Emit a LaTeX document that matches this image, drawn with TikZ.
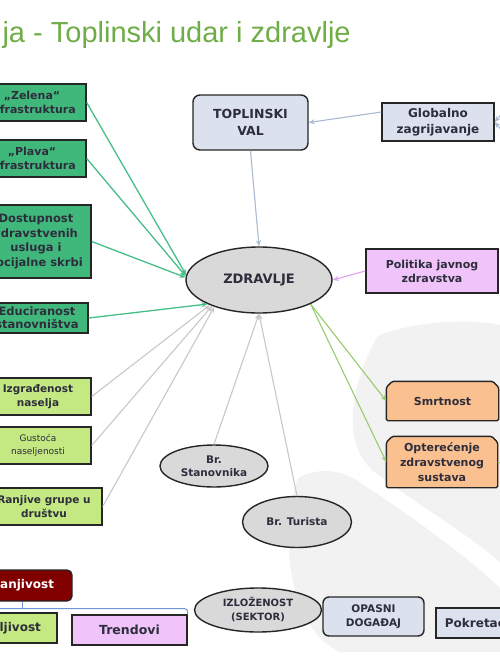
\documentclass[tikz,border=0pt]{standalone}
\usepackage{fontspec}
\setmainfont{DejaVu Sans}
\newfontfamily\titlefont{Liberation Sans}
\usetikzlibrary{arrows.meta, shapes.geometric, calc, backgrounds}

\definecolor{titlegreen}{RGB}{112,173,71}
\definecolor{tealbox}{RGB}{64,184,124}
\definecolor{limebox}{RGB}{196,232,130}
\definecolor{bluegray}{RGB}{219,226,237}
\definecolor{pinkbox}{RGB}{240,196,250}
\definecolor{orangebox}{RGB}{250,192,143}
\definecolor{ranjred}{RGB}{128,0,0}
\definecolor{ellgray}{RGB}{217,217,217}
\definecolor{wmgray}{RGB}{242,242,242}
\definecolor{boxtext}{RGB}{45,45,60}
\definecolor{tealline}{RGB}{70,190,135}
\definecolor{limeline}{RGB}{150,205,110}
\definecolor{greyline}{RGB}{200,200,200}
\definecolor{blueline}{RGB}{170,186,210}
\definecolor{pinkline}{RGB}{222,160,240}
\definecolor{brkblue}{RGB}{110,150,215}

\begin{document}
\begin{tikzpicture}[x=1pt, y=-1pt,
    box/.style={draw=black!85, line width=1.4pt, align=center, inner sep=1pt, text=boxtext,
        font=\bfseries\fontsize{11}{14}\selectfont},
    zelbox/.style={box, fill=tealbox},
    limbox/.style={box, fill=limebox},
    blbox/.style={box, fill=bluegray},
    pinkbx/.style={box, fill=pinkbox},
    ovl/.style={box, ellipse, fill=ellgray, inner sep=0pt},
    orbox/.style={box, draw=none},
    orshape/.style={fill=orangebox, draw=black!85, line width=1.4pt, rounded corners=1.5pt},
    tip/.style={-{Stealth[length=6pt, width=5pt]}},
    tealarr/.style={tip, draw=tealline, line width=1.3pt},
    limearr/.style={tip, draw=limeline, line width=1.1pt},
    greyarr/.style={tip, draw=greyline, line width=1.1pt},
    bluarr/.style={tip, draw=blueline, line width=1.1pt},
    pinkarr/.style={tip, draw=pinkline, line width=1.1pt},
    brk/.style={draw=brkblue, line width=1pt}]

    \useasboundingbox (0,0) rectangle (500,670);
    \begin{scope}[on background layer]
        \fill[white] (0,0) rectangle (500,670);
        \fill[wmgray] (378,336) .. controls (352,380) and (340,440) .. (372,470)
            .. controls (410,500) and (470,535) .. (500,562) -- (500,325)
            .. controls (470,318) and (410,322) .. (378,336) -- cycle;
        \fill[wmgray] (298,478) .. controls (320,466) and (345,470) .. (365,486)
            .. controls (410,515) and (465,555) .. (500,588) -- (500,652) -- (340,652)
            .. controls (290,630) and (278,540) .. (298,478) -- cycle;
    \end{scope}
    \clip (0,0) rectangle (500,670);

    \node[anchor=base west, text=titlegreen, font=\titlefont\fontsize{29}{34}\selectfont] (naslov) at (-1,42) {ja - Toplinski udar i zdravlje};

    \node[zelbox, minimum width=108pt, minimum height=37pt] (zel) at (32,102.5) {„Zelena“\\infrastruktura};
    \node[zelbox, minimum width=108pt, minimum height=37pt] (plav) at (32,158.5) {„Plava“\\infrastruktura};
    \node[zelbox, minimum width=110pt, minimum height=73pt, font=\bfseries\fontsize{11.5}{14.5}\selectfont] (dost) at (36,241.5) {Dostupnost\\zdravstvenih\\usluga i\\socijalne skrbi};
    \node[zelbox, minimum width=102pt, minimum height=30pt, font=\bfseries\fontsize{11.5}{13}\selectfont] (educ) at (37,318) {Educiranost\\stanovništva};

    \node[limbox, minimum width=106pt, minimum height=37pt, font=\bfseries\fontsize{10.5}{14}\selectfont] (izgr) at (38,396.5) {Izgrađenost\\naselja};
    \node[limbox, minimum width=106pt, minimum height=37pt, font=\fontsize{9}{13}\selectfont] (gust) at (38,445.5) {Gustoća\\naseljenosti};
    \node[limbox, minimum width=116pt, minimum height=37pt, font=\bfseries\fontsize{10.5}{14}\selectfont] (ranjg) at (44,506.5) {Ranjive grupe u\\društvu};

    \node[blbox, rounded corners=7pt, minimum width=115pt, minimum height=55pt, font=\bfseries\fontsize{12.5}{17}\selectfont] (topl) at (250.5,122.5) {TOPLINSKI\\VAL};
    \node[blbox, minimum width=112pt, minimum height=38pt, font=\bfseries\fontsize{12}{16}\selectfont] (glob) at (438,122) {Globalno\\zagrijavanje};
    \node[pinkbx, minimum width=132pt, minimum height=44pt] (pol) at (432,271) {Politika javnog\\zdravstva};

    \node[ovl, minimum width=146pt, minimum height=66pt, font=\bfseries\fontsize{13}{16}\selectfont] (zdr) at (259,280) {ZDRAVLJE};
    \node[ovl, minimum width=108pt, minimum height=42pt, font=\bfseries\fontsize{10.5}{13}\selectfont] (stan) at (214,466) {Br.\\Stanovnika};
    \node[ovl, minimum width=109pt, minimum height=51pt, font=\bfseries\fontsize{10.5}{13}\selectfont] (tur) at (297,522) {Br. Turista};

    \node[orbox, minimum width=111pt, minimum height=38pt] (smrt) at (442.5,401) {Smrtnost};
    \node[orbox, minimum width=110pt, minimum height=50pt, font=\bfseries\fontsize{11}{15}\selectfont] (opt) at (442,462) {Opterećenje\\zdravstvenog\\sustava};
    \begin{scope}[on background layer]
        \foreach \ob in {smrt, opt}
            \path[orshape] (\ob.south west) -- ($(\ob.north west)+(0,6)$) -- ($(\ob.north west)+(6,0)$)
                -- ($(\ob.north east)+(-6,0)$) -- ($(\ob.north east)+(0,6)$) -- (\ob.south east) -- cycle;
    \end{scope}

    \node[box, fill=ranjred, text=white, rounded corners=5pt, minimum width=99pt, minimum height=31pt, font=\bfseries\fontsize{12}{14}\selectfont] (ranj) at (22.5,585.5) {Ranjivost};
    \node[limbox, minimum width=130pt, minimum height=30pt, font=\bfseries\fontsize{12}{14}\selectfont] (prilag) at (-8,628) {Prilagodljivost};
    \node[pinkbx, minimum width=115pt, minimum height=30pt, font=\bfseries\fontsize{12.5}{14}\selectfont] (trend) at (129.5,630) {Trendovi};
    \node[ovl, minimum width=127pt, minimum height=44pt, font=\bfseries\fontsize{10}{14}\selectfont] (izlo) at (258,610) {IZLOŽENOST\\(SEKTOR)};
    \node[blbox, rounded corners=6pt, minimum width=101pt, minimum height=39pt, font=\bfseries\fontsize{10.5}{14}\selectfont] (opas) at (373.5,616.5) {OPASNI\\DOGAĐAJ};
    \node[blbox, minimum width=82pt, minimum height=30pt, font=\bfseries\fontsize{12}{14}\selectfont] (pokr) at (477,623) {Pokretači};

    \coordinate (drvA) at (515,98);
    \coordinate (drvB) at (515,146);
    \coordinate (optR) at (520,470);

    \draw[bluarr] (drvA) -- (glob.east);
    \draw[bluarr] (drvB) -- (glob.east);
    \draw[bluarr] (glob.170) -- (topl.east);
    \draw[bluarr] (topl.south) -- (zdr.north);
    \draw[pinkarr] (pol.west) -- (zdr.east);

    \draw[tealarr] (zel.east) -- (zdr.176);
    \draw[tealarr] (plav.east) -- (zdr.177);
    \draw[tealarr] (dost.east) -- (zdr.178);
    \draw[tealarr] (educ.east) -- (zdr.205);

    \draw[greyarr] (izgr.east) -- (zdr.207);
    \draw[greyarr] (gust.east) -- (zdr.209);
    \draw[greyarr] (ranjg.east) -- (zdr.211);
    \draw[greyarr] (stan.north) -- (zdr.south);
    \draw[greyarr] (tur.north) -- (zdr.south);

    \draw[limearr] (zdr.-25) -- (smrt.west);
    \draw[limearr] (zdr.-25) -- (opt.west);
    \draw[limearr] (opt.east) -- (optR);

    \draw[brk] (ranj.south) -- ++(0,7) coordinate (rgr);
    \draw[brk, rounded corners=3pt] (prilag.north) |- (rgr) -| (trend.north east);
\end{tikzpicture}
\end{document}
